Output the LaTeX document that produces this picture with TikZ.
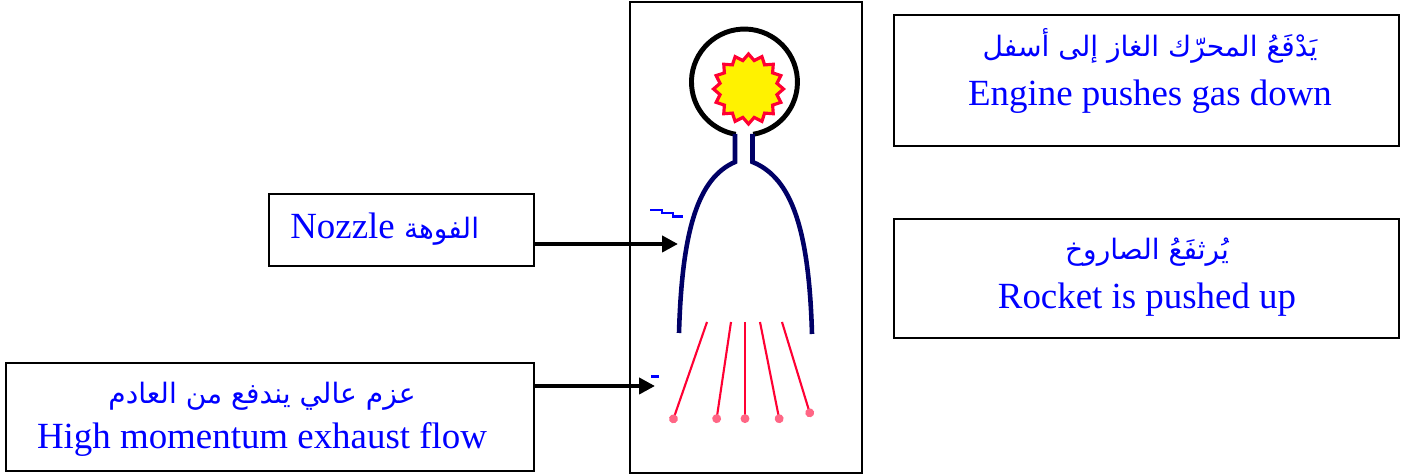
\documentclass[tikz,border=0pt]{standalone}
\usepackage{fontspec}
\setmainfont{Liberation Serif}
\newfontfamily\arabicfont[Script=Arabic]{DejaVu Sans}
\TeXXeTstate=1
\usepackage{tikz}
\usetikzlibrary{arrows.meta, positioning}

\definecolor{flame}{HTML}{FF0033}
\definecolor{hull}{HTML}{000066}

% one right-to-left line of Arabic
\newcommand{\artext}[1]{{\arabicfont\fontsize{16pt}{28pt}\selectfont\beginR #1\endR}}

\begin{document}
\begin{tikzpicture}[x=0.02cm, y=-0.02cm, >={Triangle[length=9pt, width=9pt]},
        box/.style={rectangle, draw, line width=1.2pt},
        txt/.style={align=center, text=blue, inner sep=0pt, font=\fontsize{21pt}{28pt}\selectfont},
        pointer/.style={->, line width=2.3pt},
        jet/.style={flame, line width=1.2pt, -{Circle[length=5pt, color=flame!60, fill=flame!60]}}]
    \useasboundingbox (0,0) rectangle (1416,475);

    \node (frame) [box, minimum width=4.64cm, minimum height=9.42cm] at (746,237.5) {};
    \node (engine) [box, minimum width=10.1cm, minimum height=2.62cm] at (1146.5,80.5) {};
    \node (lift) [box, minimum width=10.1cm, minimum height=2.38cm] at (1146.5,278.5) {};
    \node (nozzle) [box, minimum width=5.3cm, minimum height=1.44cm] at (401.5,230) {};
    \node (exhaust) [box, minimum width=10.56cm, minimum height=2.16cm] at (270,417) {};

    \node (engineTxt) [txt] at (1150,71) {\artext{يَدْفَعُ المحرّك الغاز إلى أسفل}\\Engine pushes gas down};
    \node (liftTxt) [txt] at (1147,277) {\artext{يُرثفَعُ الصاروخ}\\Rocket is pushed up};
    \node (nozzleTxt) [txt, anchor=west] at (290,229) {Nozzle \artext{الفوهة}};
    \node (exhaustTxt) [txt] at (262,419) {\artext{عزم عالي يندفع من العادم}\\[-2.5pt]High momentum exhaust flow};

    % chamber, burning fuel and nozzle walls
    \draw[line width=2.8pt] (753.2,134.3) arc[start angle=-80.5, end angle=260.5, radius=1.06cm];
    \begin{scope}[shift={(748.5,89)}]
        \filldraw[fill=yellow, draw=flame, line width=1.8pt] (0:35)
            \foreach \k in {1,...,31} { -- ({\k*11.25}:{ifthenelse(mod(\k,2)==0,35,29)}) } -- cycle;
    \end{scope}
    \draw[hull, line width=2.6pt] (735,134) -- (735,162) .. controls (698,178) and (682,230) .. (679,333);
    \draw[hull, line width=2.6pt] (752.5,134) -- (752.5,162) .. controls (792,178) and (809,230) .. (812,334);

    % exhaust jets
    \draw[jet] (707,322) -- (672,423);
    \draw[jet] (731,322) -- (716,423);
    \draw[jet] (745,322) -- (745,423);
    \draw[jet] (760,322) -- (780,423);
    \draw[jet] (782,322) -- (811,417);

    % stray blue marks
    \draw[blue, line width=1.2pt] (650,210) -- (662,210) -- (662,213) -- (673,213) -- (673,216.5) -- (683,216.5);
    \draw[blue, line width=1.6pt] (651,376.5) -- (659,376.5);

    \coordinate (nozzletip) at (678,244);
    \coordinate (flowtip) at (655,386);
    \draw[pointer] (nozzle.east |- nozzletip) -- (nozzletip);
    \draw[pointer] (exhaust.east |- flowtip) -- (flowtip);
\end{tikzpicture}
\end{document}
